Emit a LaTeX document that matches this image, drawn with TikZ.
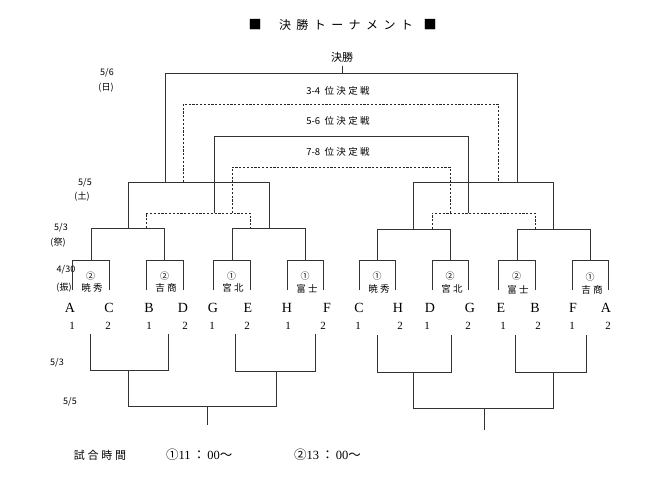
\documentclass[tikz,border=0pt]{standalone}
\usepackage{fontspec}
\setmainfont{Liberation Serif}
\newfontfamily\jpfont{Noto Sans CJK JP}
\newfontfamily\jpwide[LetterSpace=25]{Noto Sans CJK JP}
\newfontfamily\jptitle[LetterSpace=45]{Noto Sans CJK JP}
\usetikzlibrary{positioning, calc}

\tikzset{
	won/.style={line width=0.9pt, black!80},
	lost/.style={line width=0.9pt, black!85, dash pattern=on 2.2pt off 1.6pt},
	daytext/.style={font=\jpfont\fontsize{9}{9}\selectfont, inner sep=0pt},
	seed/.style={font=\jpfont\fontsize{9}{9}\selectfont, inner sep=0pt},
	school/.style={font=\jpwide\fontsize{9.5}{9.5}\selectfont, inner sep=0pt},
	letter/.style={font=\fontsize{14}{14}\selectfont, inner sep=0pt},
	slot/.style={font=\fontsize{11}{11}\selectfont, inner sep=0pt},
	gamename/.style={font=\jpwide\fontsize{9.5}{9.5}\selectfont, inner sep=0pt}
}

\begin{document}
\begin{tikzpicture}[x=1pt,y=-1pt]
		\useasboundingbox (0,0) rectangle (655,484);
		
		%Title
		\node[font=\jpfont\fontsize{13}{13}\selectfont] (sqL) at (255,25) {■};
		\node[font=\jptitle\fontsize{12}{12}\selectfont, inner sep=0pt] (title) at (346,25) {決勝トーナメント};
		\node[font=\jpfont\fontsize{13}{13}\selectfont] (sqR) at (430,25) {■};
		
		%Dates
		\node[daytext] (d56) at (107,73) {5/6};
		\node[daytext] (d56w) at (106,88) {(日)};
		\node[daytext] (d55) at (85,183) {5/5};
		\node[daytext] (d55w) at (82,197) {(土)};
		\node[daytext] (d53) at (61,228) {5/3};
		\node[daytext] (d53w) at (58,243) {(祭)};
		\node[daytext] (d430) at (66,270) {4/30};
		\node[daytext] (d430w) at (64,288) {(振)};
		
		%Final
		\node[font=\jpfont\fontsize{11}{11}\selectfont, inner sep=0pt] (final) at (342,57) {決勝};
		\draw[won] (165,182) -- (165,73) -- (517,73) -- (517,182);
		\draw[won] (342,73) -- (342,66);
		
		%Placing games
		\node[gamename] (g34) at (338,91) {{\jpfont 3-4}\ 位決定戦};
		\node[gamename] (g56) at (338,121) {{\jpfont 5-6}\ 位決定戦};
		\node[gamename] (g78) at (338,152) {{\jpfont 7-8}\ 位決定戦};
		\draw[lost] (183,182) -- (183,104) -- (498,104) -- (498,182);
		\draw[won] (214,213) -- (214,136) -- (468,136) -- (468,213);
		\draw[lost] (232,213) -- (232,167) -- (450,167) -- (450,213);
		
		%Semi finals
		\draw[won] (128,228) -- (128,182) -- (269,182) -- (269,228);
		\draw[won] (413,229) -- (413,182) -- (553,182) -- (553,229);
		
		%Quarter finals
		\draw[won] (91,260) -- (91,228) -- (164,228) -- (164,260);
		\draw[won] (232,260) -- (232,228) -- (305,228) -- (305,260);
		\draw[won] (377,260) -- (377,229) -- (450,229) -- (450,260);
		\draw[won] (517,260) -- (517,229) -- (590,229) -- (590,260);
		
		%Losers of quarter finals
		\draw[lost] (146,228) -- (146,213) -- (250,213) -- (250,228);
		\draw[lost] (432,229) -- (432,213) -- (535,213) -- (535,229);
		
		%Group boxes, left
		\draw[won] (72,290) -- (72,260) -- (109,260) -- (109,290);
		\node[seed] (s1) at (90.5,276) {②};
		\node[school] (t1) at (92,288) {暁秀};
		\draw[won] (146,290) -- (146,260) -- (183,260) -- (183,290);
		\node[seed] (s2) at (164.5,276) {②};
		\node[school] (t2) at (166,288) {吉商};
		\draw[won] (213,290) -- (213,260) -- (250,260) -- (250,290);
		\node[seed] (s3) at (231.5,276) {①};
		\node[school] (t3) at (233,288) {宮北};
		\draw[won] (287,290) -- (287,260) -- (323,260) -- (323,290);
		\node[seed] (s4) at (305,276) {①};
		\node[school] (t4) at (307,289) {富士};
		
		%Group boxes, right
		\draw[won] (359,290) -- (359,260) -- (395,260) -- (395,290);
		\node[seed] (s5) at (377,276) {①};
		\node[school] (t5) at (379,289) {暁秀};
		\draw[won] (432,290) -- (432,260) -- (468,260) -- (468,290);
		\node[seed] (s6) at (450,276) {②};
		\node[school] (t6) at (452,289) {宮北};
		\draw[won] (498,290) -- (498,260) -- (535,260) -- (535,290);
		\node[seed] (s7) at (516.5,276) {②};
		\node[school] (t7) at (518,290) {富士};
		\draw[won] (572,290) -- (572,260) -- (608,260) -- (608,290);
		\node[seed] (s8) at (590,277) {①};
		\node[school] (t8) at (592,290) {吉商};
		
		%Group letters and places
		\node[letter] (lA1) at (70,308) {A};   \node[slot] at (72,326) {1};
		\node[letter] (lC1) at (109,308) {C};  \node[slot] at (108,326) {2};
		\node[letter] (lB1) at (149,308) {B};  \node[slot] at (149,326) {1};
		\node[letter] (lD1) at (183,308) {D};  \node[slot] at (185,326) {2};
		\node[letter] (lG1) at (213,308) {G};  \node[slot] at (212,326) {1};
		\node[letter] (lE1) at (248,308) {E};  \node[slot] at (247,326) {2};
		\node[letter] (lH1) at (287,308) {H};  \node[slot] at (288,326) {1};
		\node[letter] (lF1) at (327,308) {F};  \node[slot] at (323,326) {2};
		\node[letter] (lC2) at (359,308) {C};  \node[slot] at (358,326) {1};
		\node[letter] (lH2) at (398,308) {H};  \node[slot] at (400,326) {2};
		\node[letter] (lD2) at (430,308) {D};  \node[slot] at (427,326) {1};
		\node[letter] (lG2) at (470,308) {G};  \node[slot] at (468,326) {2};
		\node[letter] (lE2) at (501,308) {E};  \node[slot] at (503,326) {1};
		\node[letter] (lB2) at (535,308) {B};  \node[slot] at (538,326) {2};
		\node[letter] (lF2) at (573,308) {F};  \node[slot] at (572,326) {1};
		\node[letter] (lA2) at (606,308) {A};  \node[slot] at (608,326) {2};
		
		%Lower bracket
		\node[daytext] (b53) at (57,363) {5/3};
		\node[daytext] (b55) at (70,402) {5/5};
		\draw[won] (90,334) -- (90,370) -- (168,370) -- (168,334);
		\draw[won] (235,334) -- (235,371) -- (315,371) -- (315,334);
		\draw[won] (128,370) -- (128,406) -- (276,406) -- (276,371);
		\draw[won] (207,406) -- (207,425);
		\draw[won] (377,335) -- (377,372) -- (451,372) -- (451,335);
		\draw[won] (515,335) -- (515,372) -- (586,372) -- (586,335);
		\draw[won] (413,372) -- (413,408) -- (553,408) -- (553,372);
		\draw[won] (484,408) -- (484,430);
		
		%Match times
		\node[font=\jpwide\fontsize{11}{11}\selectfont, inner sep=0pt] (timeh) at (100,455) {試合時間};
		\node[font=\fontsize{12.5}{12.5}\selectfont, inner sep=0pt, anchor=west] (time1) at (166,455) {{\jpfont ①}11\,{\jpfont ：}\,00{\jpfont ～}};
		\node[font=\fontsize{12.5}{12.5}\selectfont, inner sep=0pt, anchor=west] (time2) at (294,455) {{\jpfont ②}13\,{\jpfont ：}\,00{\jpfont ～}};
		
\end{tikzpicture}
\end{document}
